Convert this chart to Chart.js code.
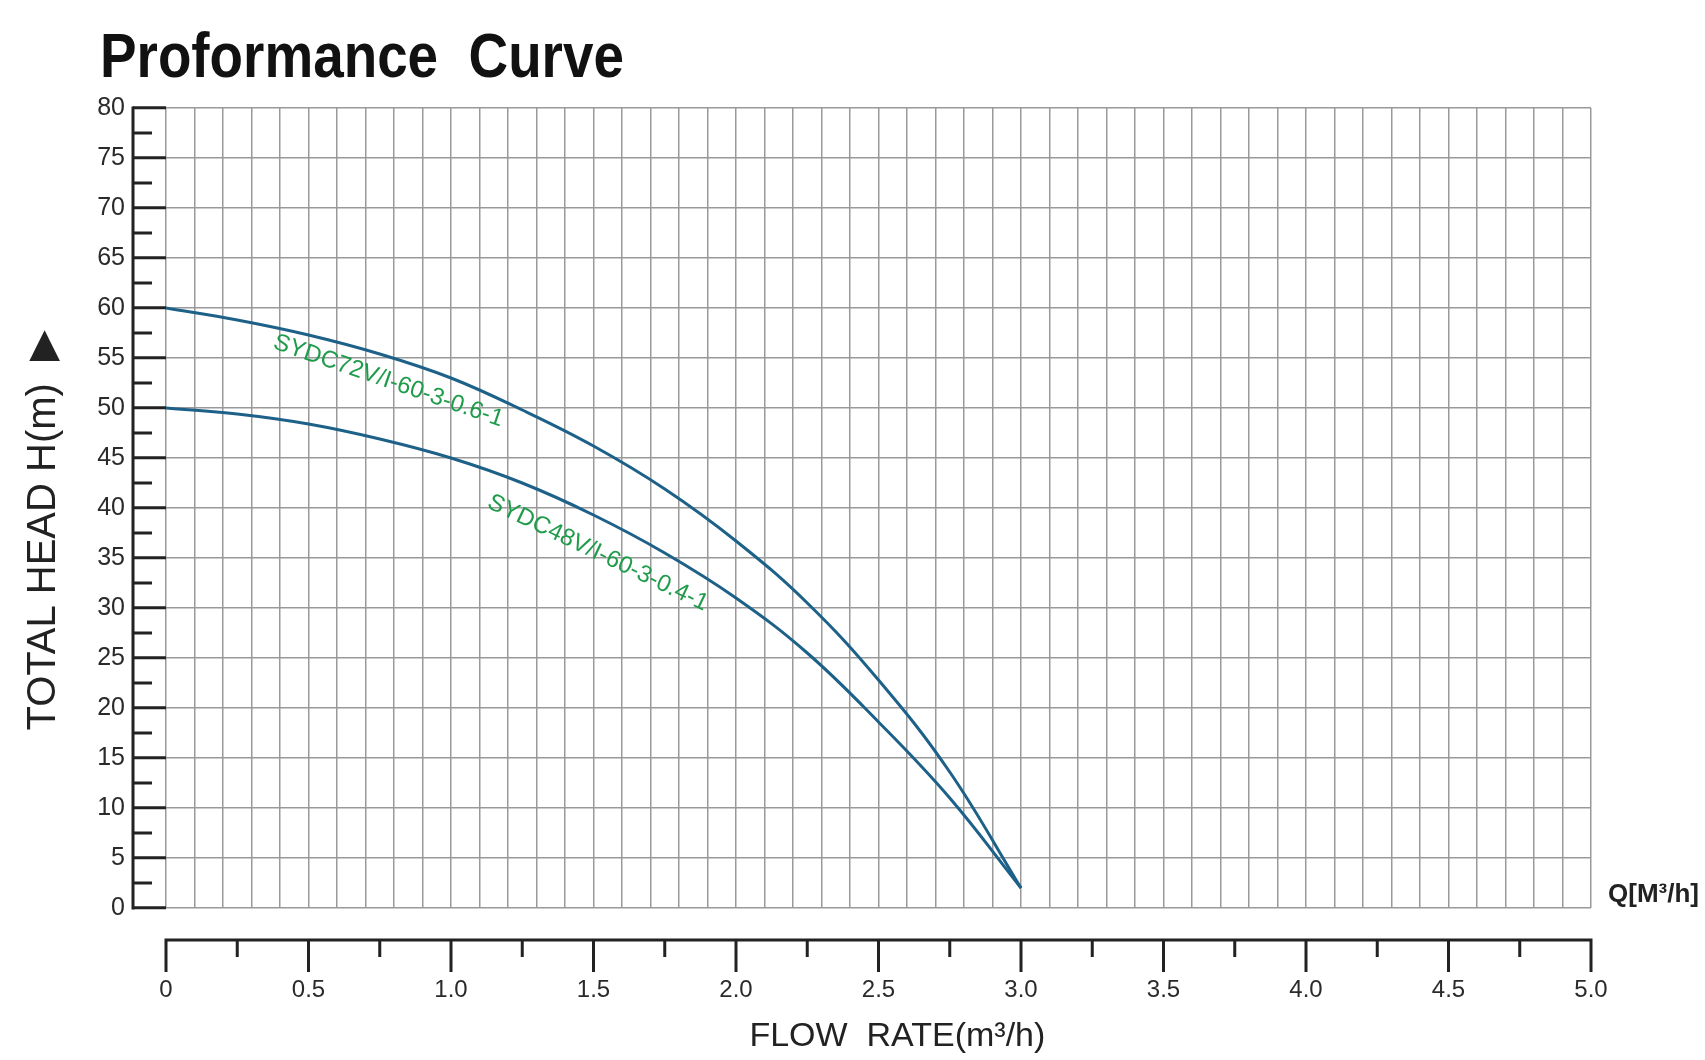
<!DOCTYPE html>
<html>
<head>
<meta charset="utf-8">
<title>Proformance Curve</title>
<script src="https://cdn.jsdelivr.net/npm/chart.js@4.4.1/dist/chart.umd.min.js"></script>
<style>
  html, body { margin: 0; padding: 0; background: #fff; }
  #wrap { width: 1705px; height: 1060px; }
</style>
</head>
<body>
<div id="wrap"><canvas id="perfChart" width="1705" height="1060"></canvas></div>
<script>
const flowRate = [0, 0.25, 0.5, 0.75, 1.0, 1.25, 1.5, 1.75, 2.0, 2.25, 2.5, 2.75, 3.0];
// total head (m) for each pump
const headSYDC72 = [60, 58.8, 57.3, 55.4, 53.0, 49.8, 46.2, 41.9, 36.7, 30.5, 22.8, 13.6, 2.0];
const headSYDC48 = [50, 49.4, 48.4, 46.9, 45.0, 42.5, 39.3, 35.5, 31.0, 25.5, 18.6, 11.0, 2.0];
const modelNames = ["SYDC72V/I-60-3-0.6-1", "SYDC48V/I-60-3-0.4-1"];
// where each model name sits on the chart: [flow, head, angle in deg]
const nameSpots = [[0.78, 52.7, 19], [1.515, 35.5, 25.5]];
const xTickLabels = ["0", "0.5", "1.0", "1.5", "2.0", "2.5", "3.0", "3.5", "4.0", "4.5", "5.0"];

const curveColor = "#1d6189";
const nameColor = "#1f9c4b";
const inkColor = "#222222";

function toPoints(xs, ys) {
  return xs.map((x, i) => ({ x: x, y: ys[i] }));
}

// extra bits: heading, the offset axes, the Q label and model names
const extras = {
  id: "extras",
  afterDraw(chart) {
    const ctx = chart.ctx;
    const xs = chart.scales.x;
    const ys = chart.scales.y;
    const area = chart.chartArea;
    ctx.save();

    // heading (condensed bold)
    ctx.save();
    ctx.translate(100, 77);
    ctx.scale(0.87, 1);
    ctx.font = "bold 63px 'Liberation Sans'";
    ctx.fillStyle = "#111";
    ctx.textBaseline = "alphabetic";
    ctx.textAlign = "left";
    ctx.fillText("Proformance  Curve", 0, 0);
    ctx.restore();

    // left axis line and half steps
    const axX = area.left - 33;
    ctx.strokeStyle = inkColor;
    ctx.lineWidth = 3;
    ctx.beginPath();
    ctx.moveTo(axX, ys.getPixelForValue(80) - 1.5);
    ctx.lineTo(axX, ys.getPixelForValue(0) + 1.5);
    for (let v = 2.5; v < 80; v += 5) {
      const py = ys.getPixelForValue(v);
      ctx.moveTo(axX, py);
      ctx.lineTo(axX + 19, py);
    }
    ctx.stroke();

    // bottom axis, set below the grid
    const axY = area.bottom + 32;
    ctx.beginPath();
    ctx.moveTo(xs.getPixelForValue(0) - 1.5, axY);
    ctx.lineTo(xs.getPixelForValue(5) + 1.5, axY);
    for (let i = 0; i <= 20; i++) {
      const px = xs.getPixelForValue(i * 0.25);
      ctx.moveTo(px, axY);
      ctx.lineTo(px, axY + (i % 2 ? 17 : 32));
    }
    ctx.stroke();

    // unit at the end of the grid
    ctx.font = "bold 26px 'Liberation Sans'";
    ctx.fillStyle = inkColor;
    ctx.textBaseline = "middle";
    ctx.textAlign = "left";
    ctx.fillText("Q[M³/h]", area.right + 17, ys.getPixelForValue(1.3));

    // model names along the curves
    ctx.font = "24px 'Liberation Sans'";
    ctx.fillStyle = nameColor;
    ctx.textAlign = "center";
    nameSpots.forEach((s, i) => {
      ctx.save();
      ctx.translate(xs.getPixelForValue(s[0]), ys.getPixelForValue(s[1]));
      ctx.rotate(s[2] * Math.PI / 180);
      ctx.fillText(modelNames[i], 0, 0);
      ctx.restore();
    });

    ctx.restore();
  }
};

const data = {
  datasets: [
    {
      label: modelNames[0],
      data: toPoints(flowRate, headSYDC72),
      borderColor: curveColor,
      borderWidth: 3,
      pointRadius: 0,
      tension: 0.4,
      fill: false,
    },
    {
      label: modelNames[1],
      data: toPoints(flowRate, headSYDC48),
      borderColor: curveColor,
      borderWidth: 3,
      pointRadius: 0,
      tension: 0.4,
      fill: false,
    },
  ],
};

const options = {
  responsive: false,
  animation: false,
  layout: {
    padding: { left: 0, right: 114, top: 108, bottom: 0 },
  },
  plugins: {
    legend: { display: false },
    tooltip: { enabled: false },
  },
  scales: {
    x: {
      type: "linear",
      min: 0,
      max: 5,
      border: { display: false },
      grid: {
        color: "#999999",
        lineWidth: 1.5,
        drawTicks: false,
      },
      ticks: {
        stepSize: 0.1,
        autoSkip: false,
        maxRotation: 0,
        minRotation: 0,
        padding: 68,
        color: "#2a2a2a",
        font: { family: "'Liberation Sans'", size: 24 },
        callback: function (value) {
          const r = Math.round(value * 10);
          if (r % 5 !== 0) return "";
          return xTickLabels[r / 5];
        },
      },
      title: {
        display: true,
        text: "\u00a0\u00a0\u00a0\u00a0FLOW  RATE(m³/h)",
        color: inkColor,
        font: { family: "'Liberation Sans'", size: 34 },
        padding: { top: 0, bottom: 3 },
      },
      afterFit: function (scale) {
        scale.height = 152;
      },
    },
    y: {
      min: 0,
      max: 80,
      border: { display: false },
      grid: {
        color: "#999999",
        lineWidth: 1.5,
        tickColor: inkColor,
        tickWidth: 3,
        tickLength: 33,
      },
      ticks: {
        stepSize: 5,
        padding: 8,
        color: "#2a2a2a",
        font: { family: "'Liberation Sans'", size: 25 },
      },
      title: {
        display: true,
        text: "TOTAL HEAD H(m)\u00a0\u00a0\u25B6\u00a0\u00a0\u00a0\u00a0",
        color: inkColor,
        font: { family: "'Liberation Sans'", size: 40 },
        padding: { top: 20, bottom: 0 },
      },
      afterFit: function (scale) {
        scale.width = 166;
      },
    },
  },
};

const perfChart = new Chart(document.getElementById("perfChart"), {
  type: "line",
  data: data,
  options: options,
  plugins: [extras],
});
</script>
</body>
</html>
